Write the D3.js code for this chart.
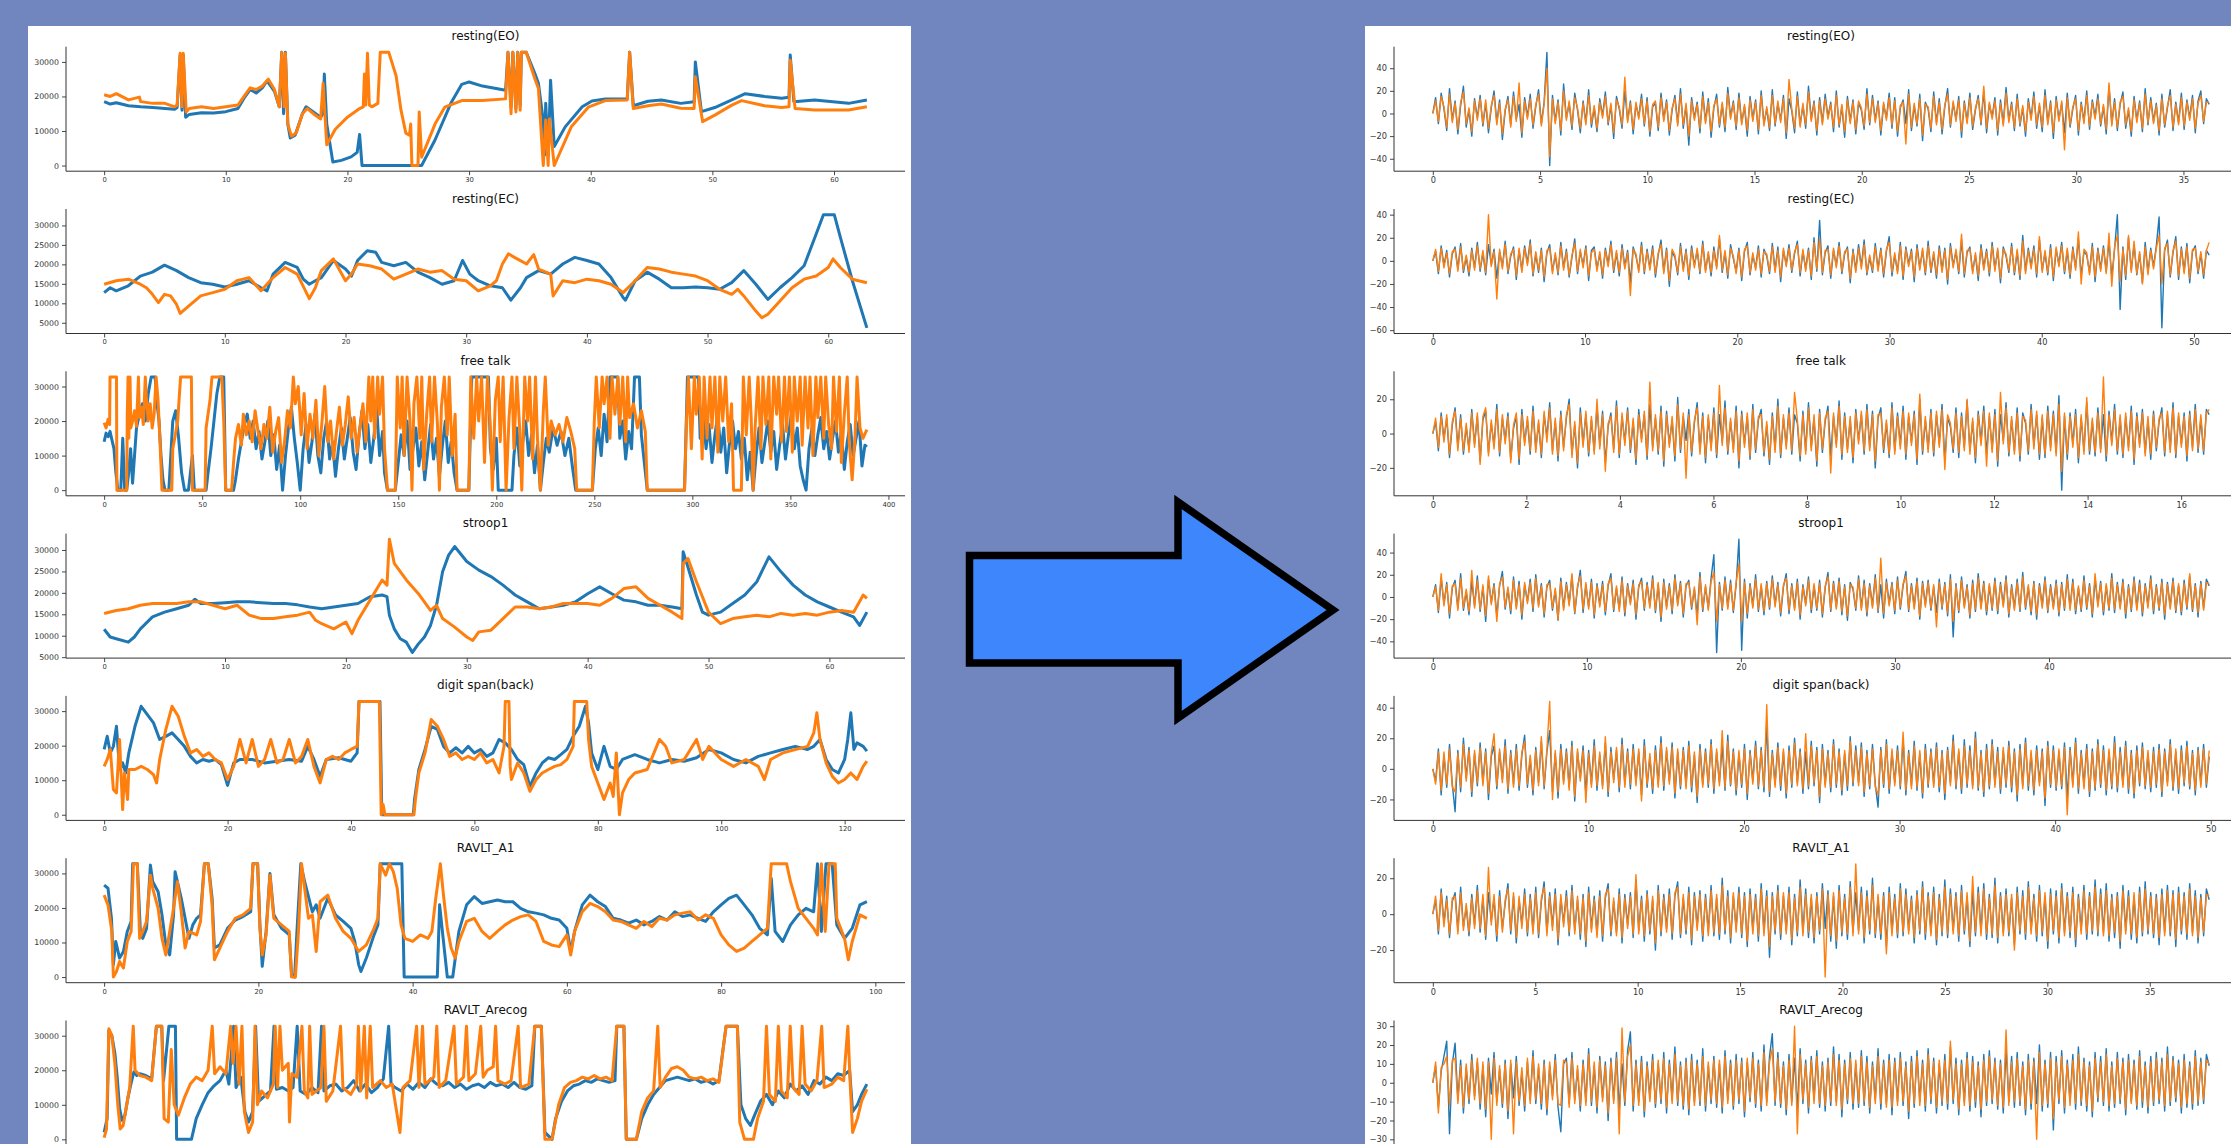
<!DOCTYPE html>
<html>
<head>
<meta charset="utf-8">
<script src="https://cdn.jsdelivr.net/npm/d3@7"></script>
<style>
html, body { margin: 0; padding: 0; background: #7186bf; overflow: hidden; }
svg { display: block; }
</style>
</head>
<body>
<div id="chart"></div>
<script>
// Subplot titles (same order in both panels)
const titles = ["resting(EO)", "resting(EC)", "free talk", "stroop1", "digit span(back)", "RAVLT_A1", "RAVLT_Arecog"];

// ---- Left panel: raw signals, [seconds, value] ----
const rawEOBlue = [[0,18500],[0.5,17800],[1,18200],[2,17300],[3,17000],[4,16800],[5,16500],[5.8,16300],[6.0,16800],[6.25,32000],[6.4,16000],[6.5,32000],[6.7,14000],[7,14800],[8,15300],[9,15200],[10,15600],[11,16500],[11.5,19500],[12,22000],[12.5,21000],[13,22500],[13.4,24500],[14,21500],[14.4,17000],[14.6,32767],[14.75,15000],[14.9,32767],[15.1,12000],[15.3,8000],[15.7,8800],[16.3,15000],[16.6,17000],[17.2,15500],[17.8,14000],[18.0,15000],[18.1,26500],[18.3,12000],[18.8,1000],[19.5,1500],[20.3,2500],[20.8,3800],[21.0,9000],[21.2,0],[26.1,0],[27.2,7400],[28.5,18000],[29.4,23500],[30,24200],[31.1,23000],[33,21800],[33.2,32767],[33.45,17000],[33.6,32767],[33.85,16500],[34.0,32767],[34.2,17500],[34.3,32767],[34.7,32767],[35.4,26700],[35.7,23800],[36.1,13000],[36.2,3000],[36.3,18000],[36.5,3000],[36.7,24700],[37,5500],[37.9,11200],[39.3,17000],[40.1,18700],[41.2,19300],[43.0,19300],[43.2,32767],[43.5,17300],[44.7,18600],[45.8,19000],[47.4,18000],[48.5,18500],[48.6,30000],[49.1,15600],[50.2,16800],[51.6,19000],[52.7,20800],[54.3,20000],[55.7,19500],[56.3,19800],[56.4,32000],[56.7,18500],[58.4,19000],[61.2,18000],[62.7,19000]];
const rawEOOrange = [[0,20500],[0.5,20000],[1,20800],[2,19000],[2.9,19800],[3,18500],[4,18000],[5,18000],[5.8,17000],[6.0,17500],[6.25,32500],[6.4,17000],[6.5,32500],[6.75,15500],[7,16500],[8,17000],[9,16500],[10,17000],[11,17500],[11.5,20000],[12,22500],[12.5,22000],[13,23000],[13.5,25000],[14,22000],[14.4,17000],[14.6,32767],[14.8,17000],[14.9,32500],[15.1,12000],[15.4,8500],[15.8,9500],[16.3,15000],[16.7,16500],[17.2,15000],[17.8,13500],[18.0,23800],[18.3,6000],[19,10500],[20,14000],[21,16500],[21.3,17000],[21.4,26500],[21.5,17500],[21.65,32500],[21.8,17500],[22,17000],[22.5,18000],[22.7,32767],[23.4,32767],[24.0,26000],[24.4,16100],[24.8,9400],[25.1,8800],[25.2,12000],[25.3,0],[25.8,0],[25.9,15500],[26.1,2400],[27.2,12000],[28,16900],[29.4,18800],[31.1,18800],[33,19300],[33.2,32767],[33.45,15000],[33.6,32767],[33.85,15500],[34.0,32767],[34.2,16000],[34.3,32767],[34.7,32767],[35.4,25200],[35.7,22300],[36.1,0],[36.3,13200],[36.5,0],[36.6,13500],[37,0],[37.3,2400],[38.4,11200],[39.8,16900],[41.2,18800],[43.0,19000],[43.2,32767],[43.5,16500],[44.7,17300],[45.8,17800],[47.4,16600],[48.5,16500],[48.6,25700],[49.2,12700],[50.2,14600],[51.6,17500],[52.4,18800],[54.3,17300],[55.7,16800],[56.3,17000],[56.4,30500],[56.8,16500],[58.4,16100],[61.2,16100],[62.7,17000]];

const rawECBlue = [[0,12750],[0.5,14000],[1,13200],[2,14500],[3,17000],[4,18000],[5,19800],[6,18400],[7,16600],[8,15300],[9,14900],[10,14200],[11,14900],[12,15800],[13,14000],[13.5,13200],[14,17500],[15,20500],[16,19200],[16.5,16200],[17,14900],[17.5,15800],[18,16600],[19,21000],[20,18800],[20.5,17000],[21,21000],[21.8,23500],[22.5,23100],[23,20500],[24,19650],[25,20500],[26,18000],[27,16600],[28,14900],[29,15800],[29.7,21000],[30.3,17500],[31,15800],[32,14500],[33,14000],[33.7,10800],[34.5,14000],[35,16600],[36,18400],[37,17500],[38,20100],[39,21800],[40,21000],[41,20100],[42,16600],[43,11500],[43.2,10800],[44,15800],[45,18000],[46,16200],[47,14000],[48,14000],[49,14200],[50,14000],[51,13600],[52,15300],[53,18400],[54,14900],[55,11000],[56,14000],[57,16600],[58,19650],[59,27800],[59.6,32767],[60.5,32767],[61,27000],[62,15800],[63.2,3700]];
const rawECOrange = [[0,14900],[1,15800],[2,16200],[3,14900],[3.5,14000],[4,12300],[4.5,10200],[5,12300],[5.5,11900],[6,9700],[6.3,7400],[7,9300],[8,11900],[9,12750],[10,13600],[11,15800],[12,16600],[13,13200],[14,16600],[15,19200],[16,17500],[17,11200],[17.5,14000],[18,18400],[19,21400],[20,15800],[20.5,17500],[21,20100],[22,19650],[23,18800],[24,16200],[25,17500],[26,18800],[27,18000],[28,18400],[29,16200],[30,15800],[31,13200],[32,14500],[32.5,15800],[33,20100],[33.5,22700],[34,21800],[35,20100],[35.6,22500],[36,18800],[37,17500],[37.2,11900],[38,15800],[39,15300],[40,16200],[41,15800],[42,14900],[43,12750],[44,15800],[45,19200],[46,18800],[47,18000],[48,17500],[49,17000],[50,15800],[51,13600],[52,12300],[52.5,13600],[53,11900],[54,8000],[54.5,6300],[55,7200],[56,10600],[57,14000],[58,16200],[59,17000],[60,19200],[60.4,21400],[61,19200],[62,16200],[63.2,15300]];

const rawTalkBlue = [[0,14000],[1,16500],[2,15500],[3,17000],[4,14500],[5,12000],[6,5000],[7,0],[8.5,0],[9.5,15000],[10.5,0],[11.5,0],[12.5,5000],[13.5,12000],[14.5,2000],[15.5,10000],[16.5,18000],[18,22000],[19.5,25000],[21,20000],[22.5,28000],[24,32767],[26,32767],[27,25000],[28,20000],[29,10000],[30,3000],[31,0],[33,0],[34,10000],[35,20000],[36.5,23000],[38,15000],[39.5,5000],[41,0],[43,0],[44,5000],[45,10000],[46,0],[52,0],[53,5000],[54.5,12000],[56,20000],[57.5,28000],[59,32767],[61,32767],[62,0],[66,0],[67,3000],[68.5,9000],[70,14000],[71.5,19000],[73,22000],[74.5,15000],[76,20000],[77.5,12000],[79,17000],[80.5,9000],[82,14000],[83.5,20000],[85,10000],[86.5,16000],[88,6000],[89.5,13000],[91,0],[92.5,10000],[94,18000],[95.5,24000],[97,15000],[98.5,8000],[100,0],[101.5,12000],[103,19000],[104.5,8000],[106,14000],[107.5,22000],[109,10000],[110.5,5000],[112,15000],[113.5,20000],[115,9000],[116.5,14000],[118,4000],[119.5,12000],[121,18000],[122.5,9000],[124,15000],[125.5,21000],[127,11000],[128.5,6000],[130,16000],[131.5,23000],[133,12000],[134.5,19000],[136,8000],[137.5,15000],[139,24000],[140.5,10000],[142,17000],[143,5000],[144.5,0],[148.5,0],[150,8000],[151.5,16000],[153,10000],[154.5,20000],[156,6000],[157.5,12000],[159,18000],[160.5,7000],[162,14000],[163.5,3000],[165,11000],[166.5,19000],[168,9000],[169.5,15000],[171,4000],[172.5,13000],[174,20000],[175.5,8000],[177,14000],[178.5,5000],[180,0],[186,0],[187.5,32767],[196,32767],[197,12000],[198.5,6000],[200,15000],[201,0],[208,0],[209,10000],[210.5,18000],[212,7000],[213.5,14000],[215,20000],[216.5,10000],[218,16000],[219.5,5000],[221,13000],[222.5,0],[224,8000],[225.5,15000],[227,11000],[229,18000],[231,13000],[233,17000],[235,10000],[237,15000],[239,6000],[240.5,0],[249,0],[250.5,12000],[252,18000],[253.5,10000],[255,22000],[256.5,14000],[258,32767],[262,32767],[263,15000],[264.5,20000],[266,9000],[267.5,17000],[269,12000],[270.5,32767],[273,32767],[274,16000],[275.5,8000],[277,0],[296,0],[297.5,32767],[303,32767],[304,15000],[305.5,22000],[307,12000],[308.5,19000],[310,8000],[311.5,16000],[313,22000],[314.5,11000],[316,18000],[317.5,5000],[319,14000],[320.5,20000],[322,12000],[323.5,17000],[325,9000],[326.5,15000],[328,3000],[329.5,11000],[331,0],[332.5,10000],[334,18000],[335.5,8000],[337,14000],[338.5,20000],[340,11000],[341.5,17000],[343,6000],[344.5,13000],[346,19000],[347.5,9000],[349,16000],[350.5,22000],[352,12000],[353.5,18000],[355,7000],[356.5,3000],[358,0],[359.5,12000],[361,18000],[362.5,10000],[364,16000],[365.5,21000],[367,12000],[368.5,17000],[370,9000],[371.5,15000],[373,20000],[374.5,11000],[376,17000],[377.5,6000],[379,14000],[380.5,19000],[382,10000],[383.5,15000],[385,20000],[386.5,7000],[388,13000],[389,12500]];
const rawTalkOrange = [[0,19500],[1,18000],[2,20500],[2.8,19000],[3,32767],[6.3,32767],[6.5,0],[11.5,0],[11.8,22000],[12.2,32767],[12.6,15000],[13.2,32767],[13.6,18000],[14.5,20000],[15.5,23000],[16.5,18500],[17.5,32767],[18,21000],[19,24000],[20,19000],[21,32767],[21.5,27000],[22.5,20000],[23.5,25000],[24.5,18000],[25.5,22000],[26.5,32767],[27.5,26000],[28.5,14000],[29.5,0],[34.5,0],[35,12000],[36,15000],[37.5,20000],[39,32767],[44.5,32767],[45,0],[51.5,0],[52,18000],[54,26000],[55,32767],[60,32767],[61,20000],[62,0],[65,0],[66,8000],[67,15000],[68.5,19000],[70,13000],[71,22000],[72.5,16000],[74,20000],[75.5,14000],[77,23000],[78.5,17000],[80,12000],[81.5,19000],[83,15000],[84.5,24000],[86,11000],[87.5,17000],[89,21000],[90.5,8000],[92,14000],[93.5,23000],[95,18000],[96.5,32767],[97.5,25000],[99,30000],[100.5,16000],[102,28000],[103.5,12000],[105,22000],[106.5,15000],[108,26000],[109.5,10000],[111,19000],[112.5,30000],[114,14000],[115.5,20000],[117,9000],[118.5,17000],[120,24000],[121.5,13000],[123,19000],[124.5,27000],[126,15000],[127.5,21000],[129,11000],[130.5,18000],[132,25000],[133.5,14000],[135,32767],[136,20000],[137,32767],[138,15000],[139.5,32767],[140.5,22000],[142,32767],[143,12000],[144.5,0],[148.5,0],[149.5,32767],[151,18000],[152,32767],[153,10000],[154.5,32767],[156,20000],[157,0],[158,25000],[159.5,32767],[161,15000],[162,32767],[163,6000],[164.5,22000],[166,32767],[167,14000],[168.5,32767],[170,19000],[171,0],[172,24000],[173.5,32767],[175,16000],[176,32767],[177.5,10000],[179,22000],[180,0],[186,0],[187,32767],[188.5,15000],[190,32767],[191,20000],[192.5,32767],[194,8000],[195.5,32767],[197,18000],[198,0],[199.5,26000],[201,32767],[202,14000],[203.5,32767],[205,0],[206.5,21000],[208,32767],[209,12000],[210.5,32767],[212,17000],[213,0],[214.5,32767],[216,20000],[217,32767],[218.5,9000],[220,32767],[221,15000],[222.5,0],[224,23000],[225,32767],[226.5,13000],[228,20000],[230,16000],[232,19000],[234,14000],[236,21000],[238,17000],[240,12000],[241,0],[249,0],[250,20000],[251,32767],[252.5,18000],[254,32767],[255,25000],[256.5,32767],[258,15000],[259,32767],[260.5,22000],[262,32767],[263,19000],[264.5,32767],[266,14000],[267,32767],[268,21000],[270,25000],[272,18000],[274,23000],[276,17000],[277,0],[296,0],[297,20000],[298,32767],[299.5,12000],[301,32767],[302,22000],[303.5,32767],[305,9000],[306,32767],[307.5,15000],[309,32767],[310,18000],[311.5,32767],[313,11000],[314,32767],[315.5,20000],[317,32767],[318.5,14000],[320,25000],[321,0],[325,0],[326,32767],[327.5,16000],[329,32767],[330,21000],[331,0],[332,18000],[333.5,32767],[335,12000],[336,32767],[337.5,19000],[339,32767],[340,9000],[341.5,32767],[343,22000],[344,32767],[345.5,14000],[347,32767],[348,17000],[349.5,32767],[351,11000],[352,32767],[353.5,20000],[355,32767],[356,13000],[357.5,32767],[359,18000],[360,32767],[361.5,10000],[363,32767],[364,21000],[365.5,32767],[367,15000],[368,32767],[369.5,19000],[371,12000],[372,32767],[373.5,17000],[375,32767],[376,8000],[377.5,22000],[379,32767],[380,14000],[381.5,3000],[383,16000],[384,32767],[385.5,18000],[387,15000],[389,17500]];

const rawStroopBlue = [[0,11500],[0.5,9700],[1,9300],[2,8500],[2.5,9700],[3,11600],[4,14400],[5,15500],[6,16300],[7,17100],[7.5,18500],[8,17500],[9,17500],[10,17700],[11,17900],[12,17900],[13,17700],[14,17500],[15,17500],[16,17200],[17,16700],[18,16300],[19,16700],[20,17100],[21,17500],[22,19100],[23,19500],[23.4,19100],[23.6,14800],[24,11600],[24.5,9300],[25,8500],[25.5,6100],[26,8100],[26.5,9700],[27,12400],[27.5,17100],[28,24900],[28.5,28800],[29,30800],[30,27300],[31,25300],[32,23800],[33,21800],[34,19500],[35,17900],[36,16300],[37,16700],[38,17100],[39,17900],[40,19800],[41,21400],[42,19800],[43,18300],[44,17900],[45,17100],[46,17100],[47,16700],[47.8,16300],[47.9,29600],[48.2,26900],[49,19500],[49.5,15500],[50,14800],[51,15500],[52,17500],[53,19500],[54,22600],[55,28400],[56,24900],[57,21800],[58,19500],[59,17900],[60,16700],[61,15500],[62,14400],[62.5,12400],[63.1,15500]];
const rawStroopOrange = [[0,15200],[1,15900],[2,16300],[3,17100],[4,17500],[5,17500],[6,17500],[7,17900],[8,17900],[9,17100],[10,16300],[11,17100],[12,14800],[13,14000],[14,14000],[15,14400],[16,14800],[17,15500],[17.5,13600],[18,12800],[19,11600],[20,13200],[20.5,10500],[21,13600],[22,18300],[23,23000],[23.4,21800],[23.6,32500],[24,26900],[25,23000],[26,19800],[27,15900],[27.5,17100],[28,14000],[29,12000],[30,9700],[30.5,8900],[31,10900],[32,11300],[33,14000],[34,16700],[35,16700],[36,16300],[37,16700],[38,17500],[39,17500],[40,17500],[41,17100],[42,18700],[43,21000],[44,21400],[45,18700],[46,17100],[47,15500],[47.8,14000],[47.9,26900],[48.3,28000],[49,22600],[50,15500],[51,12800],[52,14000],[53,14400],[54,14800],[55,14400],[56,15200],[57,14800],[58,15200],[59,14800],[60,15500],[61,15900],[62,15500],[62.8,19500],[63.1,18700]];

const rawDigitBlue = [[0,18900],[0.5,22700],[1,17900],[1.5,19800],[2,25600],[2.5,13100],[3,15000],[3.5,12100],[4,17900],[5,25600],[6,31400],[7,29000],[8,26600],[9,21800],[10,22700],[11,23700],[12,21800],[13,19800],[14,16900],[15,15000],[16,16000],[17,15500],[18,16000],[19,14500],[20,8500],[21,15000],[22,16000],[24,16000],[26,15000],[28,15500],[30,16000],[32,15500],[33,19800],[34,16000],[35,11100],[36,16000],[38,16500],[40,15500],[41,17900],[41.3,32767],[44.7,32767],[45,0],[50.1,0],[50.3,4400],[51,13100],[52,18900],[53,25600],[54,24700],[55,19800],[56,17900],[57,19400],[58,17900],[59,19800],[60,17900],[61,18900],[62,16900],[63,17900],[64,21800],[65,20800],[66,18900],[67,16000],[68,14500],[69,8200],[70,12100],[71,15000],[72,16500],[73,16000],[74,17400],[75,18900],[76,22700],[77,25600],[78,31400],[78.5,26600],[79,17900],[80,13100],[81,19800],[82,14000],[83,13100],[84,16000],[86,17400],[88,16000],[90,15000],[92,16000],[94,15500],[96,16500],[98,18900],[100,17900],[102,16000],[104,15000],[106,16900],[108,17900],[110,18900],[112,19800],[114,18900],[115,19800],[116,21800],[117,16000],[118,13100],[119,12100],[120,16000],[120.5,21800],[121,29500],[121.5,18900],[122,20800],[123,19800],[123.6,18400]];
const rawDigitOrange = [[0,14000],[0.5,16000],[1,18900],[1.5,7300],[2,6300],[2.5,21800],[3,1500],[3.3,12100],[3.8,4400],[4,13100],[5,13100],[6,14000],[7,13100],[8,11600],[8.5,9200],[9,16000],[10,24700],[11,31400],[12,28500],[13,22700],[14,17900],[15,18900],[16,16900],[17,17900],[18,16000],[19,15000],[20,10200],[21,14000],[22,21800],[23,15000],[24,21800],[25,14000],[26,16000],[27,21800],[28,15000],[29,16000],[30,21800],[31,15000],[32,16900],[33,21800],[34,14000],[35,9200],[36,16000],[37,16900],[38,16000],[39,17900],[40,18900],[41,19800],[41.3,32767],[44.6,32767],[44.9,0],[45.2,3000],[45.5,0],[50.2,0],[50.5,5300],[51,12100],[52,17900],[53,27600],[54,25600],[55,21800],[56,16900],[57,17900],[58,16000],[59,16900],[60,16000],[61,17900],[62,15000],[63,16000],[64,12100],[64.8,19800],[65,32767],[65.6,32767],[65.8,14000],[66,10200],[67,15000],[68,12100],[69,6800],[70,10200],[71,12100],[72,13100],[73,14000],[74,14500],[75,16000],[76,19800],[76.2,32767],[78.2,32767],[78.5,21800],[79,14000],[80,9200],[81,4400],[82,9200],[82.5,5300],[83,17900],[83.5,0],[84,6300],[85,10200],[86,12100],[88,13100],[90,21800],[91,19800],[92,15000],[94,16000],[96,21800],[97,16000],[98,19800],[100,16000],[102,14000],[104,16000],[106,14000],[107,10200],[108,16000],[110,17900],[112,18900],[114,19800],[115,23700],[115.5,29500],[116,21800],[117,15000],[118,11100],[119,9200],[120,10200],[121,12100],[122,10200],[123,14000],[123.6,15500]];

const rawA1Blue = [[0,26600],[0.5,25700],[0.95,17000],[1.2,3600],[1.5,10300],[2,5500],[2.5,7400],[3,13200],[3.5,16100],[3.7,32767],[4.3,32767],[4.7,13200],[5,11200],[5.5,14100],[6,32400],[6.3,27600],[7,24700],[7.5,18000],[8,9300],[8.5,6400],[9,18000],[9.2,30500],[10,22800],[11,11200],[11.5,15100],[12,17000],[12.5,18000],[13,32767],[13.5,32767],[14,22800],[14.3,8400],[15,9300],[16,14100],[17,16500],[18,17500],[19,18900],[19.3,32767],[19.9,32767],[20.2,15100],[20.5,3100],[21,13200],[21.5,30000],[22,18000],[23,14100],[23.5,13200],[24,12200],[24.3,700],[24.7,0],[25,13200],[25.5,32767],[26,27600],[27,18900],[27.5,20900],[28,17000],[29,22800],[30,18000],[31,16100],[32,14100],[32.5,10300],[33,3600],[33.3,1600],[34,5500],[35,12200],[35.5,15100],[35.8,32767],[38.6,32767],[38.9,0],[43.2,0],[43.5,20900],[44,10300],[44.5,0],[45.2,0],[46,13200],[47,20900],[48,23300],[49,21300],[50,21800],[51,22300],[52,21800],[53,21800],[54,19900],[55,18900],[56,18500],[57,18000],[58,17000],[59,16500],[60,14100],[60.5,7400],[61,13200],[62,20900],[63,23700],[64,21800],[65,20400],[66,17000],[67,16500],[68,15600],[69,16500],[70,15100],[71,16100],[72,17500],[73,16500],[74,18900],[75,17500],[76,18000],[77,17000],[78,16100],[79,18900],[80,20900],[81,22800],[82,23700],[83,20900],[84,18000],[85,14100],[86,12200],[86.5,28600],[87,13200],[88,10300],[89,15100],[90,18000],[91,19900],[92,18900],[92.5,32767],[93,13200],[93.6,32767],[94.4,32767],[95,15100],[96,11200],[97,14100],[98,20900],[98.9,21800]];
const rawA1Orange = [[0,23700],[0.5,20900],[1,13200],[1.2,0],[1.6,1600],[2,4500],[2.5,2600],[3,10300],[3.5,13200],[3.8,32767],[4.3,32767],[4.6,11200],[5,13200],[5.5,16100],[6,29500],[6.3,25700],[7,19900],[7.5,11200],[8,6400],[9,19900],[9.5,27600],[10,18900],[10.5,8400],[11,13200],[12,12200],[12.5,16100],[13,32767],[13.5,32767],[14,20900],[14.3,5000],[15,8400],[16,13200],[17,17000],[18,18000],[19,19900],[19.3,32767],[19.9,32767],[20.2,14100],[20.5,6400],[21,12200],[21.5,29500],[22,17000],[23,15100],[24,13200],[24.3,0],[24.8,0],[25.2,13200],[25.6,32767],[26,25700],[26.5,17000],[27,18000],[27.5,7400],[28,21800],[29,23700],[30,17000],[31,13200],[32,11200],[33,7400],[34,9300],[35,14100],[35.5,17000],[35.8,32767],[36.5,29500],[37,32767],[37.5,30500],[38,25700],[38.5,15100],[39,11200],[40,10300],[41,12200],[42,11200],[42.5,13200],[43,22800],[43.6,32767],[44,23700],[44.5,14100],[45,8400],[45.5,5500],[46,10300],[47,16100],[48,17000],[49,13200],[50,11200],[51,13200],[52,15100],[53,16500],[54,17500],[55,18000],[56,16100],[57,10300],[58,9300],[59,8800],[60,12200],[60.5,6400],[61,13200],[62,18900],[63,21300],[64,20400],[65,18900],[66,16500],[67,16100],[68,15100],[69,14100],[70,16100],[71,14600],[72,17000],[73,16500],[74,18000],[75,18500],[76,18900],[77,16500],[78,18000],[79,17000],[80,12200],[81,9300],[82,7400],[83,8400],[84,10300],[85,12200],[86,14100],[86.5,32767],[88.5,32767],[89,27600],[90,19900],[91,17000],[92,14100],[92.5,12200],[93,32767],[93.5,13200],[94,32767],[94.8,32767],[95,17000],[96,11200],[96.5,5000],[97,10300],[98,18000],[98.9,17000]];

const rawRecogBlue = [[0,2000],[0.5,6000],[0.8,31500],[1.3,30000],[1.8,25000],[2.2,18000],[2.6,9000],[3,5500],[3.5,7000],[4,12000],[4.5,16000],[5,19500],[5.5,18500],[6,19000],[7,18500],[8,17500],[8.8,32767],[9.7,32767],[10.0,17000],[10.9,32767],[12,32767],[12.2,0],[14.7,0],[15.5,6000],[16.5,10000],[17.5,13500],[18.5,15500],[19.5,17000],[20.5,20000],[21,16000],[21.8,32767],[22.2,15000],[23,18000],[23.7,8000],[24.3,5000],[25,8000],[25.5,32767],[26,11000],[27,12500],[28,14000],[28.6,32767],[29,14500],[30,15000],[31,14000],[31.8,15000],[32.5,32767],[33,14000],[34,13000],[35,15000],[36,13500],[36.6,32767],[37,14000],[38,15500],[39,16000],[40,14000],[41,15000],[42,17000],[43,14000],[44,16000],[45,13500],[46,15000],[47,17500],[47.9,32767],[48.3,16000],[49,15000],[50,14000],[51,16000],[52,14500],[53,16500],[54,15000],[55,17500],[56,16000],[57,15500],[58,16500],[59,15000],[60,16000],[61,14500],[62,15500],[63,16000],[64,15000],[65,16500],[66,15500],[67,16000],[68,15000],[69,16500],[70,15000],[71,14500],[72,15500],[72.5,32767],[73.6,32767],[74.2,2000],[75.4,0],[76,6000],[77,11000],[78,14000],[79,15500],[80,16000],[81,17000],[82,16500],[83,17500],[84,17000],[85,16500],[86,17000],[86.3,32767],[87.5,32767],[87.9,0],[89.6,0],[90.5,6000],[91.5,10000],[92.5,13000],[93.5,15000],[94.5,17000],[95.5,17500],[96.5,18000],[97.5,17500],[98.5,17000],[99.5,17500],[100.5,16500],[101.5,17000],[102.5,16000],[103.5,17000],[104.7,32767],[106.6,32767],[107.2,10000],[108,6000],[108.8,4000],[109.5,7000],[110.5,11000],[111.5,13000],[112.5,10000],[113.5,14000],[114.5,12000],[115.5,16000],[116.5,14000],[117.5,15500],[118.5,13000],[119.5,17000],[120.5,16000],[121.5,18000],[122.5,17000],[123.5,19000],[124.5,18500],[125.5,20000],[126,8000],[126.8,10000],[127.5,13000],[128.4,16000]];
const rawRecogOrange = [[0,500],[0.4,3000],[0.8,32000],[1.3,30000],[1.8,22000],[2.3,10000],[2.7,3000],[3.2,4000],[3.7,9000],[4.3,15000],[4.9,32767],[5.2,20000],[6,18500],[7,18000],[8,17000],[8.8,32767],[9.7,32767],[10.1,6000],[10.8,5000],[11.3,26000],[11.8,10000],[12.5,7000],[13.5,12000],[14.5,16000],[15.5,18000],[16.5,17000],[17.5,20000],[18.2,32767],[18.6,19000],[19.5,21000],[20.5,19000],[21.3,32767],[21.7,22000],[22.2,32767],[22.7,16000],[23.2,32767],[23.6,8000],[24.3,2000],[25,5000],[25.4,32767],[25.8,10000],[26.5,14000],[27.5,12000],[28.5,16000],[28.8,32767],[29.2,15000],[29.6,32767],[30,20000],[31,22000],[31.2,5000],[31.6,19000],[32.5,18000],[33.3,32767],[33.7,14000],[34.3,12000],[34.6,32767],[35,13000],[36.5,15000],[37,32767],[37.4,11000],[38.5,14000],[39.8,32767],[40.2,15000],[41.5,13000],[42.5,16000],[42.8,32767],[43.2,14000],[43.8,32767],[44.2,12000],[44.8,32767],[45.2,15000],[46.5,17000],[47.5,15000],[48.5,16000],[49.8,2000],[50.3,15000],[51.5,17000],[52.6,32767],[53,15000],[53.6,32767],[54,16000],[55.5,18000],[56,32767],[56.4,15000],[57.5,17000],[58.9,32767],[59.3,16000],[60.5,18000],[61,32767],[61.4,17000],[62.5,19000],[63.4,32767],[63.8,18000],[64.5,20000],[65.5,21000],[65.9,32767],[66.3,17000],[67.5,16000],[68.5,17000],[69.7,32767],[70.1,15000],[71.5,16000],[72.5,32767],[73.6,32767],[74.2,0],[75.4,0],[76.5,10000],[77.5,15000],[78.5,16500],[79.5,17000],[80.5,18000],[81.5,17500],[82.5,18500],[83.5,17500],[84.5,18000],[85.5,17000],[86.3,32767],[87.5,32767],[87.9,0],[89.6,0],[90.5,8000],[91.5,12000],[92.5,14000],[93.2,32767],[93.6,15000],[94.5,18000],[95.5,20500],[96.5,21000],[97.5,20000],[98.5,18000],[99.5,17500],[100.5,18000],[101.5,17000],[102.5,17500],[103.5,16500],[104.7,32767],[106.6,32767],[107,5000],[107.8,0],[109.3,0],[110,6000],[111,11000],[111.5,32767],[112,13000],[113,11000],[113.5,32767],[114,14000],[115,12000],[115.5,32767],[116,15000],[117,13000],[117.5,32767],[118,16000],[119,14000],[120,17000],[120.8,32767],[121.2,15000],[122.5,16000],[123.5,18000],[124.5,17000],[125.2,32767],[125.6,16000],[126,2000],[126.8,6000],[127.5,11000],[128.4,14500]];

const rawXTicks = [d3.range(0, 61, 10), d3.range(0, 61, 10), d3.range(0, 401, 50), d3.range(0, 61, 10), d3.range(0, 121, 20), d3.range(0, 101, 20), d3.range(0, 121, 20)];
const rawYTicks = [[0, 10000, 20000, 30000], [5000, 10000, 15000, 20000, 25000, 30000], [0, 10000, 20000, 30000], [5000, 10000, 15000, 20000, 25000, 30000], [0, 10000, 20000, 30000], [0, 10000, 20000, 30000], [0, 10000, 20000, 30000]];

// ---- Right panel: filtered signals, evenly sampled over each duration (s) ----
const filtDurations = [36.2, 51, 16.6, 50.4, 49.9, 37.9, 38];

const filtEOBlue = [
0,14,-9,18,4,-15,22,-6,11,-18,7,24,-12,3,-20,13,-4,16,-11,9,
-17,5,20,-8,12,-23,2,15,-10,19,-5,8,-21,14,-3,17,-13,6,21,-9,
10,54,-46,16,-7,12,-19,26,-4,9,-14,18,3,-17,11,-8,21,-12,5,-16,
13,-2,19,-10,7,-22,15,4,-13,20,-6,11,-18,8,-3,17,-11,14,-20,6,
9,-15,18,-5,12,-19,3,16,-9,22,-13,7,-28,14,-4,10,-17,19,-7,13,
-21,5,17,-12,8,-16,23,-3,11,-14,18,-8,6,-20,15,-5,12,-18,20,-9,
4,-15,21,-11,9,-6,16,-22,13,2,-17,19,-10,7,-13,24,-5,11,-19,14,
-8,17,-3,10,-16,20,-12,6,-21,15,-7,12,-18,9,3,-14,22,-10,16,-6,
11,-19,8,-4,18,-13,14,-20,5,12,-9,21,-15,7,-11,17,-24,10,4,-16,
19,-8,13,-18,6,22,-12,9,-5,15,-21,11,-7,18,-14,3,16,-10,20,-17,
8,-3,14,-19,12,-9,23,-6,10,-15,17,-11,5,-20,13,-4,19,-13,7,-16,
21,-8,11,-22,15,-5,9,-17,18,-12,4,16,-19,10,-7,20,-14,12,-3,17,
-11,6,-18,24,-9,13,-15,8,19,-13,3,-20,15,-6,11,-16,22,-10,14,-7,
9,-19,17,-12,5,21,-15,10,-8,18,-14,12,-4,16,-17,11,20,-9,13,8];
const filtEOOrange = [
0,11,-7,15,6,-12,17,-8,9,-14,10,19,-9,5,-16,11,-6,13,-9,12,
-13,7,16,-10,9,-18,4,12,-12,15,-7,27,-17,11,-5,13,-10,8,17,-11,
8,40,-38,13,-9,10,-15,20,-6,11,-11,14,5,-13,9,-10,16,-9,7,-13,
10,-4,15,-8,9,-17,12,6,-10,32,-8,9,-14,10,-5,13,-9,11,-16,8,
11,-12,14,-7,10,-15,5,13,-11,17,-10,9,-20,11,-6,8,-13,15,-9,10,
-16,7,13,-10,10,-12,18,-5,9,-11,14,-10,8,-15,12,-7,10,-14,16,-11,
6,-12,16,-9,11,-8,13,-17,30,4,-13,15,-12,9,-10,19,-7,9,-15,11,
-10,13,-5,8,-12,16,-10,8,-16,12,-9,10,-14,11,5,-11,17,-8,13,-8,
9,-15,10,-6,14,-10,11,-16,7,10,-27,17,-12,9,-9,13,-19,8,6,-13,
15,-10,10,-14,8,17,-10,11,-7,12,-16,9,-9,14,-11,5,13,-8,24,-13,
10,-5,11,-15,9,-11,18,-8,8,-12,13,-9,7,-16,10,-6,15,-10,9,-12,
16,-10,9,-17,12,-7,11,-32,14,-10,6,13,-15,8,-9,16,-11,10,-5,13,
-9,8,-14,27,-11,10,-12,10,15,-10,5,-16,12,-8,9,-13,17,-8,11,-9,
7,-15,13,-10,7,16,-12,8,-10,14,-11,10,-6,13,-13,9,16,-7,10,10];

const filtECBlue = [
0,8,-11,13,-4,9,-14,6,12,-7,15,-10,3,-13,11,-6,16,-9,7,-12,
14,-3,10,-15,8,-5,17,-11,4,12,-16,9,-8,13,-2,18,-13,6,-10,11,
-18,7,14,-9,5,-12,16,-6,10,-14,3,19,-11,8,-4,13,-17,9,12,-7,
6,-15,11,-3,17,-10,7,-13,14,-5,9,-19,12,4,-8,16,-11,10,-6,13,
-14,5,18,-9,11,-22,8,3,-12,15,-7,10,-16,13,-4,9,-11,17,-8,6,
-13,12,-5,19,-10,7,-15,14,2,-9,11,-17,8,16,-12,5,-6,13,-14,10,
4,-11,15,-8,12,-18,9,-3,14,-10,6,17,-13,8,-7,11,-16,20,-9,35,
-12,7,13,-15,9,-4,16,-11,6,12,-19,10,-8,14,-5,18,-12,3,-10,15,
-7,11,-14,8,21,-13,5,-9,16,-16,12,-3,10,-18,14,-6,9,-12,17,-10,
6,-15,13,-8,11,-20,15,-4,8,-11,18,-14,7,12,-9,5,-17,14,-6,10,
-13,16,-7,9,-19,12,4,-10,15,-12,8,-16,22,-9,11,-5,13,-14,18,-8,
7,-12,14,-17,10,-3,16,-11,9,-15,12,-6,19,-13,8,5,-10,15,-18,11,
-7,13,-9,17,-14,10,40,-42,12,-16,20,-8,14,-12,6,-19,16,-10,11,-5,
13,38,-58,9,18,-14,7,21,-16,12,-9,15,-19,8,13,-11,6,-15,9,5];
const filtECOrange = [
0,10,-9,11,-6,7,-11,8,10,-9,12,-8,5,-10,9,-8,13,-7,9,-10,
40,-5,8,-33,10,-7,14,-9,6,10,-13,11,-10,11,-4,15,-11,8,-8,9,
-14,9,11,-11,7,-10,13,-8,8,-12,5,15,-9,10,-6,11,-13,7,10,-9,
8,-12,9,-5,14,-8,9,-10,11,-7,7,-30,10,6,-10,13,-9,8,-8,10,
-11,7,14,-11,9,-17,10,5,-10,12,-9,8,-13,10,-6,11,-9,14,-10,8,
-10,9,-7,22,-8,9,-12,11,4,-11,9,-14,10,13,-10,7,-8,10,-11,8,
6,-9,12,-10,9,-14,11,-5,11,-8,8,14,-10,10,-9,9,-13,16,-7,19,
-10,9,10,-12,11,-6,13,-9,8,10,-15,8,-10,11,-7,14,-10,5,-8,12,
-9,9,-11,10,16,-10,7,-11,13,-13,10,-5,8,-14,11,-8,11,-10,13,-8,
8,-12,10,-10,9,-16,12,-6,10,-9,23,-11,9,10,-11,7,-13,11,-8,8,
-10,13,-9,11,-15,10,6,-8,12,-10,10,-13,17,-11,9,-7,10,-11,21,-10,
9,-10,11,-14,12,-5,13,-9,11,-12,10,-8,25,-20,10,7,-12,12,-14,9,
-9,11,-11,24,-22,12,22,-18,10,-13,22,-10,17,-11,8,-20,12,-12,9,-7,
11,22,-20,11,15,-12,9,17,-13,10,-11,12,-15,10,11,-9,8,-12,9,16];

const filtTalkBlue = [
0,7,-10,12,-3,9,-14,5,15,-8,11,-12,4,-9,14,-6,10,-16,8,13,
-11,6,-7,17,-13,9,-4,12,-15,3,10,-18,14,-5,8,-12,16,-9,6,-14,
11,-2,18,-10,7,-16,13,-8,9,20,-12,5,-20,15,-6,11,-13,8,-10,16,
-7,13,-17,4,12,-9,19,-14,10,-5,15,-11,7,-18,14,-3,11,-15,17,-8,
9,-12,16,-19,13,-6,8,-16,21,-11,10,-4,14,-13,6,18,-10,12,-17,9,
-8,15,-14,11,-5,19,-12,7,-9,16,-20,13,-6,10,-15,17,-11,8,14,-13,
5,-18,12,-9,20,-14,9,-7,15,-12,11,6,-16,13,-10,18,-8,9,-19,14,
-11,7,16,-13,10,-6,19,-15,12,-9,8,-17,14,-4,11,-12,17,-8,13,-20,
9,15,-11,6,-14,18,-10,12,-7,16,-15,10,-5,13,-18,20,-12,8,-9,14,
-13,11,-6,17,-16,9,4,-11,15,-14,12,-8,19,-10,7,-17,13,-5,16,-12,
10,-9,14,-19,11,-4,18,-13,8,-10,15,-16,12,6,-12,17,-7,11,-15,9,
-14,16,-8,13,-11,22,-33,10,-15,12,-6,14,-17,9,-10,18,-12,7,-13,15,
-9,11,-16,13,-5,17,-12,9,-14,10,-8,16,-18,12,-6,14,-11,8,-15,13,
-10,7,15,-13,11,-9,18,-14,10,-6,12,-16,13,-8,17,-11,9,-12,14,11];
const filtTalkOrange = [
0,9,-8,10,-5,11,-12,7,13,-10,9,-10,6,-11,12,-8,12,-18,10,15,
-13,8,-9,14,-11,11,-6,10,-17,5,12,-15,11,-7,10,-10,13,-11,8,-12,
13,-5,15,-12,9,-13,11,-10,11,17,-14,7,-17,12,-8,13,-11,10,-12,20,
-9,11,-22,6,10,-11,16,-12,12,-7,13,-9,9,-15,11,-5,13,-13,30,-10,
11,-10,13,-16,11,-8,10,-13,17,-9,12,-26,11,-11,8,15,-12,10,-14,11,
-10,12,-12,28,-7,15,-10,9,-11,13,-16,11,-8,12,-13,14,-9,10,11,-11,
7,-15,10,-11,16,-12,11,-9,12,-10,24,8,-13,11,-12,15,-10,11,-16,12,
-9,9,13,-23,12,-8,16,-12,10,-11,10,-14,12,-6,13,-10,14,-10,11,-16,
11,12,-9,8,-12,15,-12,10,-9,13,-12,12,-7,11,-15,23,-10,10,-11,12,
-11,13,-8,14,-21,11,6,-9,12,-11,10,-10,20,-12,9,-14,11,-7,13,-19,
12,-11,11,-16,24,-6,15,-11,10,-12,12,-13,10,8,-10,14,-9,13,-12,11,
-12,13,-10,11,-13,17,-22,12,-12,10,-8,11,-14,11,-12,21,-10,9,-11,12,
-11,33,-13,11,-7,14,-10,11,-12,12,-10,13,-15,10,-8,12,-13,10,-12,11,
-8,9,12,-11,13,-11,15,-12,12,-8,10,-13,11,-10,14,-9,11,-10,12,14];

const filtStroopBlue = [
0,11,-14,17,-6,13,-19,8,15,-10,21,-12,5,-16,14,-8,19,-13,9,-22,
16,-5,12,-17,10,23,-11,7,-15,18,-9,14,-20,11,-4,16,-13,20,-7,12,
-18,9,15,-12,6,-21,17,-10,13,-6,19,-15,8,24,-14,11,-9,16,-19,12,
-7,14,-16,10,21,-13,8,-11,18,-17,12,-5,15,-20,9,17,-12,13,-8,19,
-14,11,-22,16,-9,12,-15,20,-6,14,-18,10,15,-11,7,-16,22,-13,9,-10,
17,38,-50,13,-12,18,-9,15,-14,11,52,-48,16,-19,12,-8,20,-13,10,-16,
14,-11,19,-7,13,-17,9,21,-15,12,-10,16,-20,11,-6,18,-14,10,-12,15,
-18,8,22,-13,14,-9,17,-16,11,-21,13,7,-12,19,-10,15,-17,12,-8,20,
-14,11,-19,16,-6,13,-15,18,-11,10,23,-13,12,-9,17,-20,14,-7,15,-12,
9,-14,16,-11,13,-17,20,-36,12,-14,18,-8,11,-19,15,-13,21,-9,14,-16,
10,-12,17,-15,13,-7,19,-18,11,-10,16,-13,22,-11,9,-16,14,-20,12,-8,
18,-14,11,-9,15,-17,13,-12,20,-10,16,-15,8,-13,19,-11,12,-18,17,-7,
14,-16,10,-12,21,-14,13,-9,16,-19,11,-13,18,-10,15,-17,12,-8,19,-15,
11,-12,16,-20,13,-9,17,-14,10,-16,15,-11,19,-13,12,-18,14,-10,16,10];
const filtStroopOrange = [
0,9,-12,21,-8,11,-15,10,12,-12,17,-10,7,-13,24,-10,15,-11,11,-17,
19,-7,10,-22,12,18,-9,9,-12,15,-11,11,-16,13,-6,13,-10,17,-9,10,
-15,11,12,-10,8,-20,14,-12,11,-8,21,-14,10,19,-11,13,-11,13,-16,10,
-9,11,-13,12,17,-11,10,-13,15,-14,10,-7,12,-16,11,14,-10,11,-10,16,
-12,13,-18,13,-11,10,-12,17,-8,12,-15,12,13,-9,9,-25,18,-11,11,-12,
14,22,-22,11,-10,15,-11,12,-12,13,30,-22,13,-15,10,-10,16,-11,12,-13,
12,-9,16,-9,11,-14,11,17,-12,10,-12,13,-16,9,-8,15,-11,12,-10,12,
-15,10,18,-11,12,-11,14,-13,9,-17,11,9,-10,16,-12,12,-14,10,-10,17,
-12,35,-15,13,-8,11,-12,15,-9,12,19,-11,10,-11,14,-17,12,-9,13,-10,
11,-27,13,-9,11,-14,16,-22,10,-12,15,-10,9,-16,12,-11,17,-11,12,-13,
12,-10,14,-12,11,-9,16,-15,9,-12,13,-11,18,-9,11,-13,12,-16,10,-10,
15,-12,9,-11,12,-14,11,-10,16,-12,13,-12,10,-11,15,-9,10,-15,21,-9,
12,-13,12,-10,17,-11,11,-11,13,-15,9,-11,15,-12,12,-14,10,-10,16,-12,
9,-10,13,-16,11,-11,14,-12,12,-13,12,-9,21,-11,10,-14,12,-12,13,12];

const filtDigitBlue = [
0,-8,13,-17,9,-12,16,-10,-28,12,-15,20,-6,14,-18,10,-11,17,-9,13,
-20,8,15,-13,11,-7,19,-16,12,-10,16,-14,9,22,-12,7,-17,14,-9,18,
-13,11,25,-15,10,-19,16,-8,13,-12,18,-21,11,-6,15,-16,12,-10,19,-14,
9,-11,17,-18,14,-7,12,-15,20,-10,13,-13,16,-9,11,-17,19,-12,8,-16,
15,-10,21,-14,12,-8,17,-19,11,-13,14,-11,18,-15,9,-22,16,-10,13,-12,
19,-16,11,-9,15,-14,22,-11,13,-17,10,-12,16,-20,12,-8,18,-13,14,-15,
30,-18,12,-10,17,-14,11,-19,15,-12,20,-9,13,-16,11,-13,18,-11,14,-22,
16,-10,12,-15,19,-12,13,-17,10,-14,21,-11,15,-9,17,-18,12,-13,16,-10,
-25,14,-12,19,-16,11,-9,15,-13,20,-17,12,-11,18,-14,10,-19,16,-12,13,
-10,17,-15,12,-20,14,-9,22,-13,11,-16,19,-12,15,-11,24,-14,12,-18,16,
-13,19,-10,14,-16,12,-12,18,-15,13,-21,16,-11,20,-14,10,-17,15,-9,13,
-24,18,-12,15,-14,11,-13,17,-19,14,-10,20,-16,12,-11,16,-18,13,-14,19,
-12,15,-17,11,-13,21,-15,14,-10,18,-16,12,-19,15,-11,17,-13,10,-15,14,
-12,16,-18,13,-9,19,-14,11,-16,15,-11,18,-13,12,-17,14,-10,16,-12,8];
const filtDigitOrange = [
0,-10,11,-14,11,-10,13,-12,-15,10,-12,16,-8,12,-15,12,-9,14,-11,11,
-16,10,23,-11,13,-9,15,-13,10,-12,13,-11,11,18,-10,9,-14,12,-11,21,
-11,13,44,-20,12,-15,13,-10,11,-14,15,-18,13,-8,12,-22,10,-12,15,-11,
11,-13,21,-15,11,-9,14,-12,16,-12,11,-10,13,-11,13,-21,15,-10,10,-13,
12,-12,17,-11,14,-10,14,-16,13,-11,12,-13,15,-12,11,-18,13,-12,11,-10,
16,-13,13,-11,25,-12,18,-10,11,-14,12,-10,13,-16,10,-10,15,-11,12,-12,
42,-15,10,-12,14,-11,13,-16,12,-10,17,-11,11,-13,23,-11,15,-9,12,-18,
13,-12,10,-12,16,-10,11,-14,12,-11,18,-9,12,-11,14,-15,10,-11,13,-12,
-17,12,-10,16,-13,13,-11,12,-11,24,-14,10,-13,15,-12,12,-16,13,-10,11,
-12,14,-12,10,-16,12,-11,18,-11,13,-13,15,-10,12,-13,20,-12,10,-15,13,
-11,16,-12,11,-13,14,-10,15,-12,11,-17,13,-13,17,-11,12,-14,12,-11,11,
-19,15,-10,12,-12,13,-11,14,-30,12,-12,17,-13,10,-13,13,-15,11,-12,16,
-10,12,-14,13,-11,17,-12,11,-12,15,-13,10,-16,12,-9,14,-11,12,-12,11,
-10,13,-15,11,-11,16,-12,13,-13,12,-9,15,-11,10,-14,12,-12,13,-10,12];

const filtA1Blue = [
0,8,-11,14,-5,10,-13,7,12,-9,15,-7,4,-12,11,-6,16,-10,9,-14,
12,-4,9,-15,13,-8,6,17,-11,10,-16,8,-6,14,-12,11,-9,15,-13,7,
18,-10,12,-7,14,-17,9,-5,13,-12,16,-9,8,-14,11,-18,15,-8,10,-11,
13,-15,9,17,-12,7,-10,14,-16,11,-6,12,-13,19,-9,10,-15,13,-11,8,
-20,16,-12,11,-8,14,-14,10,18,-13,9,-11,15,-17,12,-7,13,-15,11,-10,
16,-12,9,-14,20,-11,13,-16,10,-8,15,-13,12,-18,14,-9,11,-15,17,-10,
13,-24,12,-11,16,-14,10,-9,15,-17,11,-12,19,-10,14,-13,9,-16,12,-11,
17,-8,13,-15,10,-19,16,-12,11,-14,18,-10,12,-9,15,-16,13,-11,20,-13,
9,-14,12,-18,15,-10,11,-13,17,-12,14,-9,10,-16,13,-11,18,-14,12,-10,
15,-17,11,-12,19,-13,14,-9,12,-15,16,-11,10,-18,13,-12,15,-10,17,-14,
11,-13,20,-16,12,-10,14,-12,9,-17,15,-11,13,-14,18,-9,11,-15,16,-12,
10,-19,14,-11,13,-16,17,-10,12,-13,15,-18,11,-9,16,-14,12,-11,19,-12,
14,-10,17,-15,11,-13,12,-19,16,-9,13,-14,10,-16,15,-12,18,-11,12,-13,
11,-17,14,-10,16,-12,13,-18,15,-11,12,-14,17,-10,13,-16,11,-12,14,8];
const filtA1Orange = [
0,10,-9,12,-7,8,-11,9,10,-11,12,-9,6,-10,9,-8,13,-8,11,-12,
26,-6,11,-12,10,-10,8,14,-9,12,-13,10,-8,11,-10,9,-11,12,-11,9,
15,-12,10,-9,11,-14,11,-7,10,-10,13,-11,10,-11,9,-15,12,-10,8,-13,
10,-12,11,14,-10,9,-12,11,-13,9,-8,10,-11,22,-11,8,-12,11,-9,10,
-16,13,-10,9,-10,11,-11,12,15,-11,11,-9,12,-14,10,-9,11,-12,9,-12,
13,-10,11,-11,16,-9,10,-13,12,-10,12,-11,10,-15,11,-11,9,-12,14,-12,
10,-18,10,-9,13,-11,12,-11,12,-14,9,-10,15,-12,11,-10,11,-13,10,-9,
14,-35,11,-12,12,-15,13,-10,9,-11,15,-12,28,-11,12,-13,10,-9,16,-11,
11,-11,10,-22,12,-12,9,-11,14,-10,11,-11,8,-13,11,-9,15,-11,10,-12,
12,-14,9,-10,15,-11,11,-11,10,-12,13,-9,12,-15,21,-10,12,-12,14,-11,
9,-11,16,-13,10,-12,11,-10,11,-20,12,-9,10,-11,15,-11,9,-12,13,-10,
12,-15,11,-9,10,-13,14,-12,10,-10,12,-14,9,-11,13,-11,10,-9,15,-10,
11,-12,13,-12,9,-10,10,-15,13,-11,10,-11,12,-13,12,-10,14,-9,10,-11,
9,-13,11,-12,13,-10,11,-14,12,-9,10,-11,14,-12,10,-13,9,-10,11,10];

const filtRecogBlue = [
0,9,-13,6,14,22,-27,10,21,-9,12,-16,8,-11,15,-7,11,-14,9,-18,
13,-6,16,-10,7,-13,12,-19,10,-8,14,-12,6,-15,11,-9,17,-11,8,-14,
12,-17,9,-7,15,-13,-26,10,13,-11,16,-9,7,-15,12,-10,18,-12,9,-16,
14,-8,11,-20,13,-9,16,-14,10,-12,17,27,-15,12,-10,14,-18,11,-8,15,
-13,10,-11,16,-16,12,-9,19,-12,11,-14,13,-17,15,-10,12,-12,18,-15,9,
-11,14,-13,10,-16,17,-9,12,-14,15,-11,13,-18,11,-10,16,-13,12,-15,20,
-10,14,26,-12,16,-13,11,-17,15,-10,13,-14,18,-11,12,-16,14,-9,17,-13,
11,-15,13,-12,19,-10,15,-18,12,-11,16,-14,10,-13,17,-12,14,-16,11,-9,
18,-14,12,-11,15,-17,13,-10,16,-12,11,-19,14,-13,17,-10,12,-15,18,-11,
13,-16,10,-12,15,-14,19,-11,13,-17,12,-10,16,-15,14,-13,11,-18,15,-12,
17,-11,13,-14,12,-16,18,-10,14,-13,16,-12,11,-17,15,-14,13,-11,20,-15,
12,-13,16,-25,14,-11,17,-16,12,-10,15,-14,19,-12,13,-15,11,-18,16,-10,
14,-12,18,-15,11,-13,16,-11,13,-17,15,-10,12,-14,17,-13,11,-16,14,-12,
16,-11,13,-15,19,-12,14,-10,12,-16,15,-13,11,-14,17,-12,13,-11,15,9];
const filtRecogOrange = [
0,11,-16,8,10,14,-12,12,13,-11,9,-13,10,-9,12,-9,13,-11,11,-14,
11,-30,13,-12,9,-11,10,-15,12,-27,11,-10,8,-12,13,-11,14,-9,10,-11,
10,-14,11,-9,12,-11,-12,12,11,-13,13,-11,9,-12,10,-12,15,-10,11,-13,
12,-10,9,-16,11,-11,13,-27,29,-10,14,20,-12,10,-12,11,-15,9,-10,12,
-11,12,-9,13,-13,10,-11,15,-10,9,-12,11,-14,12,-12,10,-10,14,-12,11,
-9,12,-11,12,-13,14,-11,10,-12,12,-9,11,-15,13,-8,13,-11,10,-12,16,
-12,11,18,-10,13,-11,9,-14,12,-12,30,-27,15,-9,10,-13,12,-11,14,-11,
9,-12,11,-10,15,-12,12,-14,10,-9,13,-11,12,-11,14,-10,11,-13,9,-11,
14,-11,10,-13,12,-13,11,-12,13,-10,9,-15,11,-11,14,-12,10,-12,15,-9,
11,-13,12,-10,12,-11,22,-9,10,-14,10,-12,13,-12,11,-10,9,-14,12,-10,
14,-9,11,-12,10,-13,28,-12,11,-10,13,-10,9,-14,12,-11,11,-30,16,-12,
10,-11,13,-19,11,-9,14,-13,10,-12,12,-11,15,-10,11,-12,9,-15,13,-8,
11,-10,15,-12,9,-11,13,-9,11,-14,12,-11,10,-12,14,-10,9,-13,11,-10,
13,-9,11,-12,15,-10,12,-8,10,-13,12,-11,9,-11,14,-10,11,-9,12,10];

const filtXTicks = [d3.range(0, 36, 5), d3.range(0, 51, 10), d3.range(0, 17, 2), d3.range(0, 41, 10), d3.range(0, 51, 10), d3.range(0, 36, 5), d3.range(0, 36, 5)];
const filtYTicks = [[-40, -20, 0, 20, 40], [-60, -40, -20, 0, 20, 40], [-20, 0, 20], [-40, -20, 0, 20, 40], [-20, 0, 20, 40], [-20, 0, 20], [-30, -20, -10, 0, 10, 20, 30]];

// ---- layout ----
const W = 2231, H = 1144;
const BLUE = "#1f77b4", ORANGE = "#ff7f0e";
const ROW_TOP = 46.7, ROW_STEP = 162.3, ROW_HEIGHT = 124.5;
const LAST_ROW = titles.length - 1;   // bottom row runs off the page: no x labels
const LEFT_CFG = { panel: [28, 26, 883, 1130], x0: 66, x1: 905, yFont: 7.8, xFont: 6.8, lineWidth: 3 };
const RIGHT_CFG = { panel: [1365, 26, 880, 1130], x0: 1394, x1: 2248, yFont: 8.2, xFont: 8.2, lineWidth: 1.4 };

const svg = d3.select("#chart").append("svg")
    .attr("width", W)
    .attr("height", H);

svg.append("rect").attr("width", W).attr("height", H).attr("fill", "#7186bf");

function evenlySampled(values, duration) {
    return values.map((v, i) => [i * duration / (values.length - 1), v]);
}

const leftRows = [
    [rawEOBlue, rawEOOrange], [rawECBlue, rawECOrange], [rawTalkBlue, rawTalkOrange],
    [rawStroopBlue, rawStroopOrange], [rawDigitBlue, rawDigitOrange], [rawA1Blue, rawA1Orange],
    [rawRecogBlue, rawRecogOrange]
].map((s, i) => ({ title: titles[i], blue: s[0], orange: s[1], xTicks: rawXTicks[i], yTicks: rawYTicks[i] }));

const rightRows = [
    [filtEOBlue, filtEOOrange], [filtECBlue, filtECOrange], [filtTalkBlue, filtTalkOrange],
    [filtStroopBlue, filtStroopOrange], [filtDigitBlue, filtDigitOrange], [filtA1Blue, filtA1Orange],
    [filtRecogBlue, filtRecogOrange]
].map((s, i) => ({
    title: titles[i],
    blue: evenlySampled(s[0], filtDurations[i]),
    orange: evenlySampled(s[1], filtDurations[i]),
    xTicks: filtXTicks[i], yTicks: filtYTicks[i]
}));

function drawPanel(cfg, rows) {
    const [px, py, pw, ph] = cfg.panel;
    svg.append("rect")
        .attr("x", px).attr("y", py)
        .attr("width", pw).attr("height", ph)
        .attr("fill", "#ffffff");
    const g = svg.append("g");
    rows.forEach((row, i) => drawSubplot(g, cfg, row, i));
}

function drawSubplot(parent, cfg, row, i) {
    const top = ROW_TOP + i * ROW_STEP;
    const bottom = top + ROW_HEIGHT;
    const all = row.blue.concat(row.orange);
    const tMax = d3.max(all, d => d[0]);
    const [vMin, vMax] = d3.extent(all, d => d[1]);
    const pad = 0.05 * (vMax - vMin);

    const x = d3.scaleLinear().domain([-0.05 * tMax, 1.05 * tMax]).range([cfg.x0, cfg.x1]);
    const y = d3.scaleLinear().domain([vMin - pad, vMax + pad]).range([bottom, top]);

    const g = parent.append("g");

    const line = d3.line().x(d => x(d[0])).y(d => y(d[1]));
    [[row.blue, BLUE], [row.orange, ORANGE]].forEach(([data, color]) => {
        g.append("path")
            .datum(data)
            .attr("d", line)
            .attr("fill", "none")
            .attr("stroke", color)
            .attr("stroke-width", cfg.lineWidth)
            .attr("stroke-linejoin", "round");
    });

    const yAxis = g.append("g")
        .attr("transform", `translate(${cfg.x0},0)`)
        .call(d3.axisLeft(y).tickValues(row.yTicks).tickSize(4).tickPadding(3).tickFormat(d3.format("d")));
    const xAxis = g.append("g")
        .attr("transform", `translate(0,${bottom})`)
        .call(d3.axisBottom(x).tickValues(row.xTicks).tickSize(4).tickPadding(2)
            .tickFormat(i === LAST_ROW ? () => "" : d3.format("d")));

    [[yAxis, cfg.yFont], [xAxis, cfg.xFont]].forEach(([ax, fs]) => {
        ax.select(".domain").remove();
        ax.selectAll("line").attr("stroke", "#333").attr("stroke-width", 0.9);
        ax.selectAll("text")
            .attr("fill", "#333")
            .style("font-family", "DejaVu Sans")
            .style("font-size", fs + "px");
    });

    // left & bottom spines only
    g.append("line")
        .attr("x1", cfg.x0).attr("x2", cfg.x0)
        .attr("y1", top).attr("y2", bottom)
        .attr("stroke", "#333").attr("stroke-width", 1);
    g.append("line")
        .attr("x1", cfg.x0).attr("x2", cfg.x1)
        .attr("y1", bottom).attr("y2", bottom)
        .attr("stroke", "#333").attr("stroke-width", 1);

    g.append("text")
        .attr("x", (cfg.x0 + cfg.x1) / 2)
        .attr("y", top - 6.5)
        .attr("text-anchor", "middle")
        .style("font-family", "DejaVu Sans")
        .style("font-size", "12px")
        .attr("fill", "#111")
        .text(row.title);
}

drawPanel(LEFT_CFG, leftRows);
drawPanel(RIGHT_CFG, rightRows);

// Arrow between the panels
const arrowPoints = [[969.5, 555.5], [1178, 555.5], [1178, 502], [1333, 610], [1178, 718], [1178, 663], [969.5, 663]];
svg.append("path")
    .attr("d", d3.line()(arrowPoints) + "Z")
    .attr("fill", "#3d86fc")
    .attr("stroke", "#000")
    .attr("stroke-width", 7.5)
    .attr("stroke-linejoin", "miter")
    .attr("stroke-miterlimit", 10);
</script>
</body>
</html>
